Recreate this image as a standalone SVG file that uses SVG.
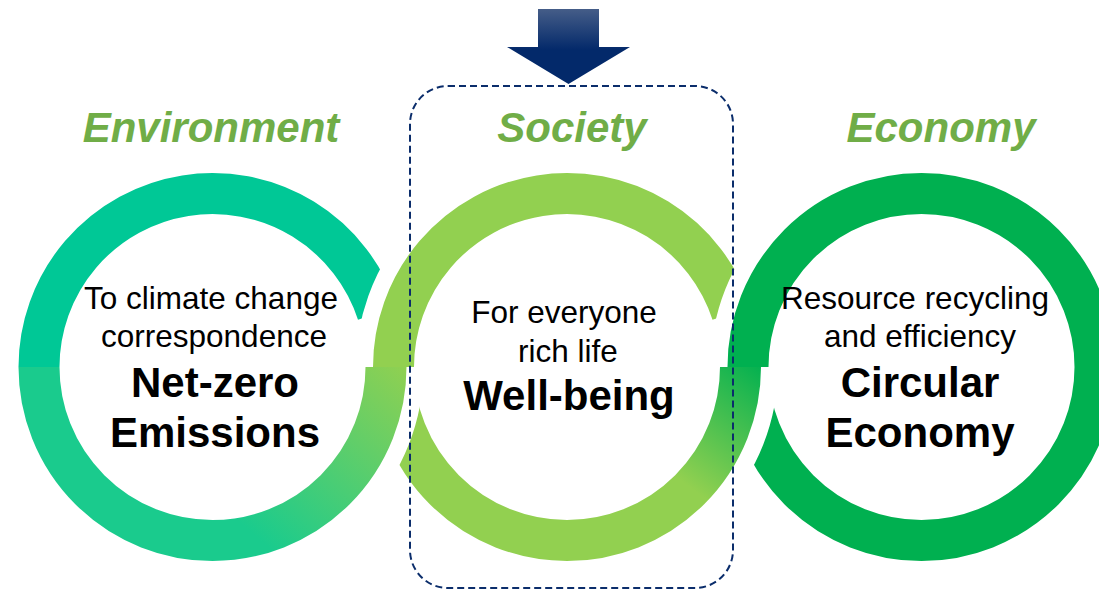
<svg xmlns="http://www.w3.org/2000/svg" width="1099" height="590" viewBox="0 0 1099 590">
<defs>
<style>
.arc{fill:none;stroke-width:41}
.gap{fill:none;stroke:#FFFFFF;stroke-width:75}
.title{font-family:"Liberation Sans",Arial,sans-serif;font-size:42px;font-weight:bold;font-style:italic;fill:#70AD47;text-anchor:middle}
.sub{font-family:"Liberation Sans",Arial,sans-serif;font-size:31.5px;fill:#000000;text-anchor:middle}
.main{font-family:"Liberation Sans",Arial,sans-serif;font-size:42px;font-weight:bold;fill:#000000;text-anchor:middle}
</style>
<linearGradient id="gA" gradientUnits="userSpaceOnUse" x1="410" y1="365" x2="260" y2="540">
<stop offset="0" stop-color="#92D050"/>
<stop offset="1" stop-color="#1ACB8D"/>
</linearGradient>
<linearGradient id="gB" gradientUnits="userSpaceOnUse" x1="765" y1="365" x2="680" y2="480">
<stop offset="0" stop-color="#00B050"/>
<stop offset="1" stop-color="#92D050"/>
</linearGradient>
<linearGradient id="gArrow" gradientUnits="userSpaceOnUse" x1="0" y1="9" x2="0" y2="50">
<stop offset="0" stop-color="#455D88"/>
<stop offset="1" stop-color="#03296A"/>
</linearGradient>
</defs>
<rect width="1099" height="590" fill="#FFFFFF"/>

<g id="rings">
<path id="envTop" class="arc" stroke="#00C896" d="M39 367 A173.5 173.5 0 0 1 377.5 313.4"/>
<path class="gap" d="M393.5 367 A173.5 173.5 0 0 1 732 313.4"/>
<path id="socTop" class="arc" stroke="#92D050" d="M393.5 367 A173.5 173.5 0 0 1 732 313.4"/>
<path class="gap" d="M748 367 A173.5 173.5 0 0 1 1095 367"/>
<path id="ecoTop" class="arc" stroke="#00B050" d="M748 367 A173.5 173.5 0 0 1 1095 367"/>
<path id="ecoBottom" class="arc" stroke="#00B050" d="M1095 367 A173.5 173.5 0 0 1 748 367"/>
<path class="gap" d="M740.5 367 A173.5 173.5 0 0 1 393.5 367"/>
<path id="socBottom" class="arc" stroke="url(#gB)" d="M740.5 367 A173.5 173.5 0 0 1 393.5 367"/>
<path class="gap" d="M386 367 A173.5 173.5 0 0 1 39 367"/>
<path id="envBottom" class="arc" stroke="url(#gA)" d="M386 367 A173.5 173.5 0 0 1 39 367"/>
</g>

<g id="connectors">
<path id="arrow" d="M538 9 H599 V47 H630 L568.5 84 L507 47 H538 Z" fill="url(#gArrow)"/>
<rect id="focus" x="410" y="86" width="323" height="502" rx="38" ry="38" fill="none" stroke="#0B2D6B" stroke-width="2" stroke-dasharray="7 4"/>
</g>

<g id="environment">
<text class="title" x="211" y="142">Environment</text>
<text class="sub" x="211" y="309">To climate change</text>
<text class="sub" x="214" y="347">correspondence</text>
<text class="main" x="215" y="397">Net-zero</text>
<text class="main" x="215" y="447">Emissions</text>
</g>

<g id="society">
<text class="title" x="572" y="142">Society</text>
<text class="sub" x="564" y="323">For everyone</text>
<text class="sub" x="568" y="362">rich life</text>
<text class="main" x="569" y="410">Well-being</text>
</g>

<g id="economy">
<text class="title" x="941" y="142">Economy</text>
<text class="sub" x="915" y="309">Resource recycling</text>
<text class="sub" x="920" y="347">and efficiency</text>
<text class="main" x="920" y="397">Circular</text>
<text class="main" x="920" y="447">Economy</text>
</g>
</svg>
